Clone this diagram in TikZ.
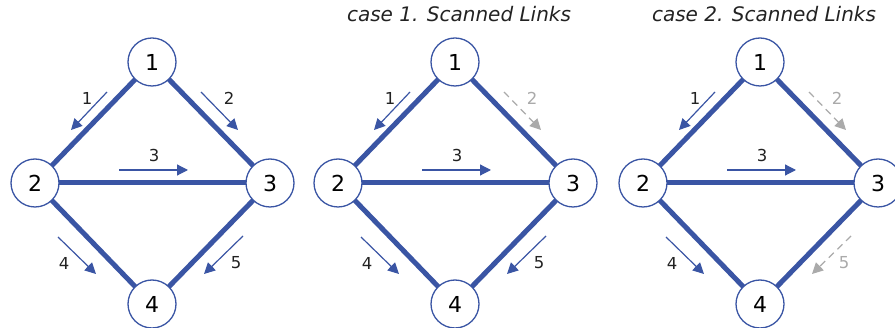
\documentclass[tikz,border=0pt]{standalone}
\usepackage{fontspec}
\setmainfont{DejaVu Sans}
\usetikzlibrary{arrows.meta}
\definecolor{netblue}{HTML}{3A55A4}
\definecolor{scangray}{HTML}{AAAAAA}
\definecolor{txt}{HTML}{222222}
\tikzset{
  vertex/.style={circle, draw=netblue, line width=1.3pt, fill=white, minimum size=48pt, inner sep=0pt, font=\fontsize{22}{22}\selectfont, text=black},
  link/.style={draw=netblue, line width=5pt, shorten <=-0.5pt, shorten >=-0.5pt},
  flow/.style={draw=netblue, line width=1.2pt, -{Triangle[length=11pt,width=11pt]}},
  flowgray/.style={draw=scangray, line width=1.2pt, dash pattern=on 7pt off 5pt, -{Triangle[length=11pt,width=11pt]}},
  lab/.style={font=\fontsize{16.5}{16.5}\selectfont, text=txt},
  flow lab/.style={},
  flowgray lab/.style={text=scangray},
  title/.style={font=\itshape\fontsize{20}{20}\selectfont, text=txt}
}
\newcommand{\drawnet}[4]{%
  \begin{scope}[xshift=#2]
    \node[vertex] (#1n1) at (152,62) {1};
    \node[vertex] (#1n2) at (35,183) {2};
    \node[vertex] (#1n3) at (270,183) {3};
    \node[vertex] (#1n4) at (152,304) {4};
    \draw[link] (#1n1) -- (#1n2);
    \draw[link] (#1n1) -- (#1n3);
    \draw[link] (#1n2) -- (#1n3);
    \draw[link] (#1n2) -- (#1n4);
    \draw[link] (#1n3) -- (#1n4);
    \coordinate (#1a1s) at (107,92); \coordinate (#1a1e) at (71,130);
    \coordinate (#1a2s) at (201,92); \coordinate (#1a2e) at (238,130);
    \coordinate (#1a3s) at (119,170); \coordinate (#1a3e) at (188,170);
    \coordinate (#1a4s) at (58,237); \coordinate (#1a4e) at (96,274);
    \coordinate (#1a5s) at (243,236); \coordinate (#1a5e) at (204,274);
    \draw[flow] (#1a1s) -- (#1a1e);
    \draw[#3] (#1a2s) -- (#1a2e);
    \draw[flow] (#1a3s) -- (#1a3e);
    \draw[flow] (#1a4s) -- (#1a4e);
    \draw[#4] (#1a5s) -- (#1a5e);
    \node[lab] (#1l1) at (87,98) {1};
    \node[lab, #3 lab] (#1l2) at (229,98) {2};
    \node[lab] (#1l3) at (154,155) {3};
    \node[lab] (#1l4) at (64,263) {4};
    \node[lab, #4 lab] (#1l5) at (236,263) {5};
  \end{scope}
}
\begin{document}
\begin{tikzpicture}[x=1pt, y=-1pt]
  \useasboundingbox (0,0) rectangle (895,328);
  \clip (0,0) rectangle (895,328);
  \drawnet{a}{0}{flow}{flow}
  \drawnet{b}{303}{flowgray}{flow}
  \drawnet{c}{608}{flowgray}{flowgray}
  \node[title] (t1) at (459,14) {case 1. Scanned Links};
  \node[title] (t2) at (764,14) {case 2. Scanned Links};
\end{tikzpicture}
\end{document}
